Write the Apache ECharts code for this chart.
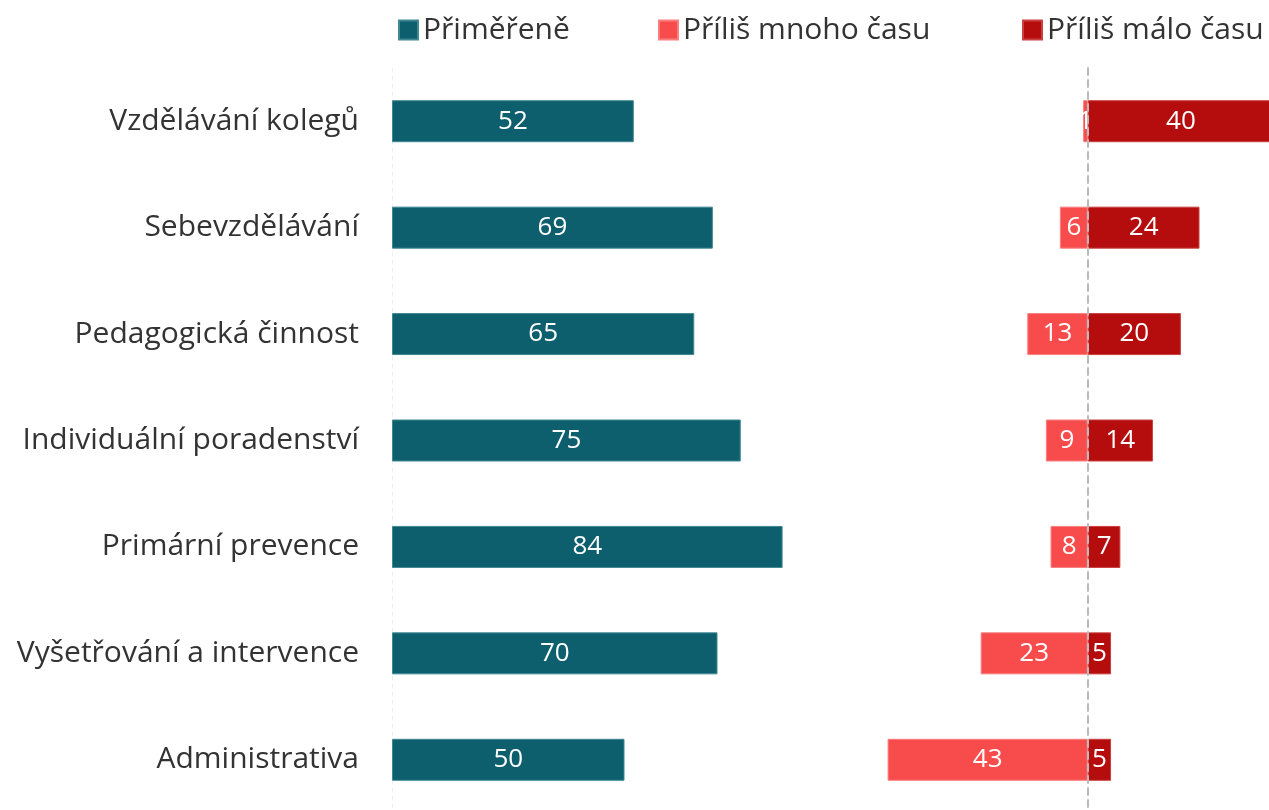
<!DOCTYPE html>
<html>
<head>
<meta charset="utf-8">
<script src="https://cdn.jsdelivr.net/npm/echarts@6/dist/echarts.min.js"></script>
<style>
  html, body { margin: 0; padding: 0; background: #fff; }
  #chart { width: 1269px; height: 810px; }
</style>
</head>
<body>
<div id="chart"></div>
<script>
const categories = [
  'Vzdělávání kolegů',
  'Sebevzdělávání',
  'Pedagogická činnost',
  'Individuální poradenství',
  'Primární prevence',
  'Vyšetřování a intervence',
  'Administrativa',
]
const seriesNames = ['Přiměřeně', 'Příliš mnoho času', 'Příliš málo času']
const primerene = [52, 69, 65, 75, 84, 70, 50]
const mocCasu = [1, 6, 13, 9, 8, 23, 43]
const maloCasu = [40, 24, 20, 14, 7, 5, 5]

const font = 'Open Sans'
const textColor = '#333'

const chart = echarts.init(document.getElementById('chart'))

const labelStyle = {
  show: true,
  position: 'inside',
  color: '#fff',
  fontSize: 26,
  fontFamily: font,
}

// one legend per item so each sits where the original puts it
const legendLefts = [393, 653, 1017]
const legends = seriesNames.map((name, i) => ({
  left: legendLefts[i],
  top: 10,
  itemWidth: 19,
  itemHeight: 19,
  icon: 'rect',
  textStyle: { fontSize: 30, color: textColor, fontFamily: font },
  data: [name],
}))

const options = {
  animation: false,
  textStyle: { fontFamily: font },
  legend: legends,
  grid: [
    { left: 392, width: 465, top: 68, bottom: -3, outerBoundsMode: 'none' },
    // right panel runs a little past the canvas edge, so the 40 bar gets cut
    { left: 855, width: 419, top: 68, bottom: -3, outerBoundsMode: 'none' },
  ],
  xAxis: [
    { gridIndex: 0, type: 'value', min: 0, max: 100, show: false },
    { gridIndex: 1, type: 'value', min: -50, max: 40, show: false },
  ],
  yAxis: [
    {
      gridIndex: 0,
      type: 'category',
      inverse: true,
      data: categories,
      axisTick: { show: false },
      axisLine: { lineStyle: { color: '#eee', type: [4, 4], width: 1 } },
      axisLabel: { fontSize: 30, color: textColor, margin: 33, fontFamily: font },
    },
    {
      gridIndex: 1,
      type: 'category',
      inverse: true,
      data: categories,
      axisTick: { show: false },
      axisLabel: { show: false },
      axisLine: { lineStyle: { color: '#bbb', type: [7, 5], width: 2 } },
      z: 5,
    },
  ],
  series: [
    {
      name: seriesNames[0],
      type: 'bar',
      xAxisIndex: 0,
      yAxisIndex: 0,
      barWidth: 42,
      data: primerene,
      itemStyle: { color: '#0e5f6d', borderColor: '#3f8894', borderWidth: 1 },
      label: labelStyle,
    },
    {
      name: seriesNames[1],
      type: 'bar',
      xAxisIndex: 1,
      yAxisIndex: 1,
      stack: 'r',
      barWidth: 42,
      data: mocCasu.map((v) => -v),
      itemStyle: { color: '#f84c4c', borderColor: '#fa8080', borderWidth: 1 },
      label: { ...labelStyle, formatter: (p) => Math.abs(p.value) },
    },
    {
      name: seriesNames[2],
      type: 'bar',
      xAxisIndex: 1,
      yAxisIndex: 1,
      stack: 'r',
      barWidth: 42,
      data: maloCasu,
      itemStyle: { color: '#b50d0d', borderColor: '#c94040', borderWidth: 1 },
      label: labelStyle,
    },
  ],
}

chart.setOption(options)
</script>
</body>
</html>
